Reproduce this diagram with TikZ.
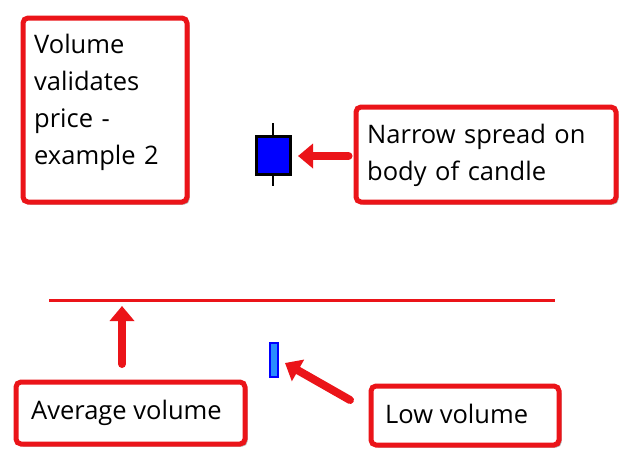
\documentclass[tikz,border=0pt]{standalone}
\usepackage{fontspec}
\setmainfont{Open Sans}
\usetikzlibrary{arrows.meta,shadows}
\definecolor{boxred}{RGB}{235,20,25}
\definecolor{volblue}{RGB}{40,140,255}
\tikzset{
  redbox/.style={draw=boxred, line width=5pt, rounded corners=5pt, fill=white,
    drop shadow={shadow xshift=2.5pt, shadow yshift=-2.5pt, opacity=0.5, fill=black!60},
    anchor=north west, inner xsep=0pt, inner ysep=0pt, align=left},
  boxtext/.style={inner sep=0pt, align=left, font=\fontsize{25.5}{37}\selectfont},
  redarrow/.style={draw=boxred, line width=8pt, line cap=round,
    -{Triangle[length=15pt,width=24pt]}},
}
\begin{document}
\begin{tikzpicture}[x=1pt,y=-1pt]
\useasboundingbox (0,0) rectangle (626,459);
\fill[white] (0,0) rectangle (626,459);
% boxes
\node[redbox, minimum width=164pt, minimum height=184pt] (title) at (20.5,15.5) {};
\node[boxtext, anchor=north west, text width=140pt] (titletext) at (34,34)
  {Volume\\validates\\price -\\example 2};
\node[redbox, minimum width=260pt, minimum height=95pt] (narrow) at (353.5,104.5) {};
\node[boxtext, anchor=north west, text width=240pt] (narrowtext) at (367,124)
  {Narrow spread on\\body of candle};
\node[redbox, minimum width=229pt, minimum height=62pt] (avg) at (13.5,379.5) {};
\node[boxtext, anchor=base west] (avgtext) at (31,419) {Average volume};
\node[redbox, minimum width=188pt, minimum height=59pt] (low) at (368.5,383.5) {};
\node[boxtext, anchor=base west] (lowtext) at (385,423) {Low volume};
% candle
\coordinate (wtop) at (273,123);
\coordinate (wbot) at (273,186);
\draw[line width=2.5pt] (wtop) -- (wbot);
\node[draw=black, line width=3pt, fill=blue, minimum width=34pt, minimum height=38pt,
  inner sep=0pt] (candle) at (273,155) {};
% volume bar
\node[draw=blue, line width=2pt, fill=volblue, minimum width=8pt, minimum height=34pt,
  inner sep=0pt] (vol) at (274,360) {};
% average line
\coordinate (la) at (49,300);
\coordinate (lb) at (555,300);
\draw[boxred, line width=3pt] (la) -- (lb);
% arrows
\coordinate (t1) at (298,156);
\draw[redarrow] (narrow.west |- t1) ++(-5,0) coordinate (s1) -- (t1);
\coordinate (s2) at (122,364);
\coordinate (t2) at (122,306);
\draw[redarrow] (s2) -- (t2);
\coordinate (s3) at (350,400);
\coordinate (t3) at (285,363);
\draw[redarrow] (s3) -- (t3);
\end{tikzpicture}
\end{document}
